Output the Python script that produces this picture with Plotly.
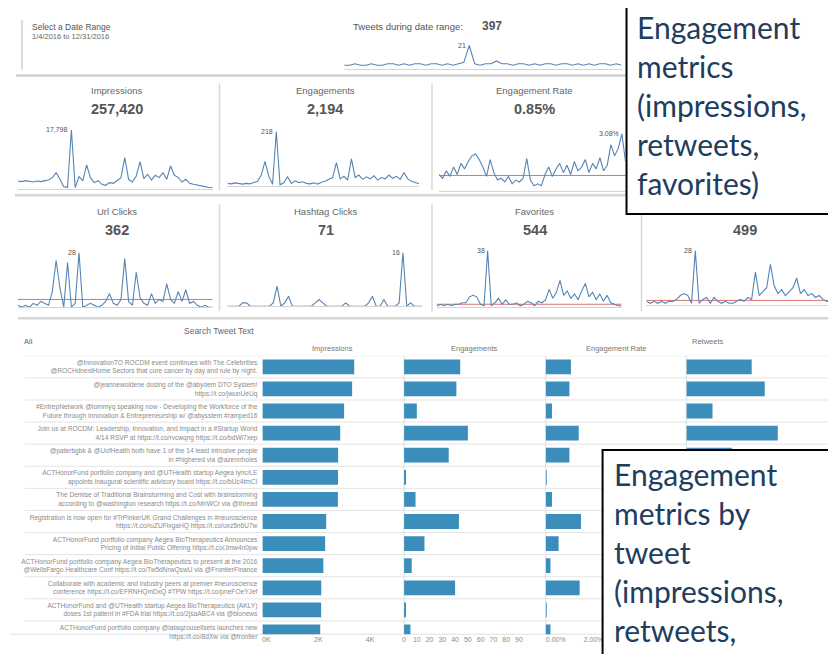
import plotly.graph_objects as go
import pandas as pd

W, H = 836, 654
def px(x): return x / W
def py(y): return 1 - y / H

# ---------------- data ----------------
week_start = "2016-01-04"

tweets_per_week = [7,7,8,7,7,8,7,7,8,8, 7,8,7,8,8,7,8,8,7,8,
                   7,8,9,21,8,7,8,8,10,8, 8,7,8,8,7,8,7,8,8,7,
                   8,8,7,8,7,8,7,8,8,7, 8,7]
impressions_weekly = [2500,2300,2600,2400,2200,2500,2300,2600,2800,3500,
                      5000,3000,800,600,17798,500,3800,2500,7300,3500,
                      2000,2600,1500,1200,2000,1800,2600,3500,9500,3000,
                      2200,4000,8300,3200,4500,2800,4200,3500,5000,3000,
                      7000,4200,3600,2200,3000,1800,1500,1200,900,800,
                      600,500]
engagements_weekly = [12,10,14,11,9,12,10,15,20,45,
                      100,40,8,218,6,14,38,12,22,15,
                      18,12,10,14,9,16,20,28,35,95,
                      30,40,25,110,35,45,28,38,30,42,
                      25,35,30,45,32,40,28,55,30,20,
                      14,10]
eng_rate_weekly = [0.9,0.7,1.1,0.8,1.3,0.9,1.5,1.2,1.6,1.9,
                   2.0,1.7,1.3,0.8,1.7,1.0,0.6,0.7,0.5,0.8,
                   0.4,0.6,0.5,0.7,1.75,0.6,0.3,0.4,0.3,0.9,
                   1.3,0.8,1.2,1.5,1.0,1.4,0.9,1.6,1.1,1.3,
                   1.7,1.0,1.5,1.2,1.8,1.1,1.4,2.5,1.9,2.3,
                   3.08,1.6]
url_clicks_weekly = [1,0,1,0,2,1,3,2,1,8,
                     24,10,0,23,0,2,28,0,1,2,
                     1,0,1,3,7,2,1,4,25,3,
                     1,18,5,2,1,7,2,4,3,12,
                     4,2,8,3,9,2,3,1,0,1,
                     0,0]
hashtag_clicks_weekly = [0,0,0,0,1,1,0,0,0,0,
                         0,0,1,6,0,1,3,0,0,0,
                         0,0,0,1,2,1,0,0,0,0,
                         0,1,0,0,0,0,0,1,3,0,
                         0,2,0,0,0,1,16,0,1,0,
                         0,0]
favorites_weekly = [1,2,1,2,1,2,2,3,3,7,
                    8,7,2,1,38,1,3,6,2,5,
                    2,2,3,1,2,4,3,1,4,3,
                    5,12,6,10,18,8,11,6,9,5,
                    11,16,7,10,5,9,4,8,3,2,
                    1,1]
retweets_weekly = [2,1,2,1,2,1,2,2,3,5,
                   6,5,1,28,1,3,4,1,4,2,
                   1,2,1,1,2,3,2,4,3,17,
                   5,7,9,21,10,6,8,5,7,9,
                   14,6,8,5,6,4,5,3,2,2,
                   1,1]

kpi_titles = ["Impressions", "Engagements", "Engagement Rate",
              "Url Clicks", "Hashtag Clicks", "Favorites", "Retweets"]
kpi_values = ["257,420", "2,194", "0.85%", "362", "71", "544", "499"]
kpi_peak_labels = ["17,798", "218", "3.08%", "28", "16", "38", "28"]
kpi_avg_lines = [None, None, 0.85, 4, None, 2, 2.5]
tweets_total = "397"
tweets_peak_label = "21"

tweet_texts = [
    "@InnovationTO ROCDM event continues with The Celebrities<br>@ROCHdnextHome Sectors that cure cancer by day and rule by night.",
    "@jeannewoldene dosing of the @abydem DTO System!<br>https://t.co/jwunUeUq",
    "#EntrepNetwork @tommyq speaking now - Developing the Workforce of the<br>Future through Innovation & Entrepreneurship w/ @abysstem #ramped16",
    "Join us at ROCDM: Leadership, Innovation, and Impact in a #Startup World<br>4/14 RSVP at https://t.co/rvcwqng https://t.co/bdWl7xep",
    "@paterbgbk & @UofHealth both have 1 of the 14 least intrusive people<br>in #highered via @azennholes",
    "ACTHonorFund portfolio company and @UTHealth startup Aegea lyric/LE<br>appoints inaugural scientific advisory board https://t.co/bUc4tmCI",
    "The Demise of Traditional Brainstorming and Cost with brainstorming<br>according to @washington research https://t.co/MnWCr via @thread",
    "Registration is now open for #TrPinkerUK Grand Challenges in #neuroscience<br>https://t.co/ruZUFlxgaHQ https://t.co/uxz5n6U7w",
    "ACTHonorFund portfolio company Aegea BioTherapeutics Announces<br>Pricing of Initial Public Offering https://t.co/Jmw4n0pw",
    "ACTHonorFund portfolio company Aegea BioTherapeutics to present at the 2016<br>@WellsFargo Healthcare Conf https://t.co/Tw5dNrwQswU via @FrontierFinance",
    "Collaborate with academic and industry peers at premier #neuroscience<br>conference https://t.co/EFRNHQmDxQ #TPW https://t.co/pneFOeYJef",
    "ACTHonorFund and @UTHealth startup Aegea BioTherapeutics (AKLY)<br>doses 1st patient in #FDA trial https://t.co/2jsaABC4 via @bionews",
    "ACTHonorFund portfolio company @lataqzousellsets launches new<br>https://t.co/8dXw via @frontier",
]
tweet_impressions = [3540, 3460, 3150, 3000, 2920, 2915, 2910, 2460, 2420, 2350, 2270, 2265, 2230]
tweet_engagements = [44, 41, 10, 50, 35, 1, 9, 43, 16, 6, 40, 1, 5]
tweet_eng_rate = [1.33, 1.25, 0.33, 1.74, 1.25, 0.05, 0.33, 1.86, 0.68, 0.25, 1.79, 0.05, 0.25]
tweet_retweets = [10, 12, 4, 14, 7, 0, 2, 9, 3, 1, 8, 0, 1]

callout_top = "Engagement<br>metrics<br>(impressions,<br>retweets,<br>favorites)"
callout_bottom = "Engagement<br>metrics by<br>tweet<br>(impressions,<br>retweets,"

# ---------------- figure ----------------
FONT = "Liberation Sans, Arial, sans-serif"
SPARK = "#5585b5"
BAR = "#3b8dbb"
GREY = "#6a6a6a"

fig = go.Figure()
layout = {}
annotations = []
shapes = []

def text(x, y, s, size, color=GREY, xanchor="center", yanchor="middle", family=FONT):
    annotations.append(dict(x=px(x), y=py(y), xref="paper", yref="paper", text=s,
                            showarrow=False, xanchor=xanchor, yanchor=yanchor,
                            font=dict(size=size, color=color, family=family)))

def line(x0, y0, x1, y1, color="#dcdcdc", w=1.0, layer="below"):
    shapes.append(dict(type="line", xref="paper", yref="paper", x0=px(x0), y0=py(y0),
                       x1=px(x1), y1=py(y1), line=dict(color=color, width=w), layer=layer))

# sparklines: (values, axis index, x-domain px, y-domain px (top,bottom), y range, peak label, avg)
spark_specs = [
    (tweets_per_week, 1, (335, 613), (35, 62), (4, 23), tweets_peak_label, None),
    (impressions_weekly, 2, (8, 203), (115, 183), (0, 20200), kpi_peak_labels[0], kpi_avg_lines[0]),
    (engagements_weekly, 3, (218, 410), (115, 180), (0, 257), kpi_peak_labels[1], kpi_avg_lines[1]),
    (eng_rate_weekly, 4, (430, 617), (115, 185), (0, 3.72), kpi_peak_labels[2], kpi_avg_lines[2]),
    (url_clicks_weekly, 5, (8, 203), (238, 302), (0, 32.6), kpi_peak_labels[3], kpi_avg_lines[3]),
    (hashtag_clicks_weekly, 6, (218, 413), (238, 301), (0, 18.7), kpi_peak_labels[4], kpi_avg_lines[4]),
    (favorites_weekly, 7, (428, 613), (238, 302), (0, 42.7), kpi_peak_labels[5], kpi_avg_lines[5]),
    (retweets_weekly, 8, (638, 830), (238, 300), (0, 31.6), kpi_peak_labels[6], kpi_avg_lines[6]),
]

for vals, k, (xa, xb), (yt, yb), yr, peak_lbl, avg in spark_specs:
    dates = pd.date_range(week_start, periods=len(vals), freq="7D")
    sfx = "" if k == 1 else str(k)
    fig.add_trace(go.Scatter(x=dates, y=vals, mode="lines", xaxis="x" + sfx, yaxis="y" + sfx,
                             line=dict(color=SPARK, width=1.1), showlegend=False, hoverinfo="skip"))
    layout["xaxis" + sfx] = dict(domain=[px(xa), px(xb)], anchor="y" + sfx,
                                 range=[dates[0], dates[-1]], showticklabels=False,
                                 showgrid=False, zeroline=False, showline=True,
                                 linecolor="#d4d4d4", linewidth=1, ticks="")
    layout["yaxis" + sfx] = dict(domain=[py(yb), py(yt)], anchor="x" + sfx, range=list(yr),
                                 visible=False)
    imax = max(range(len(vals)), key=lambda i: vals[i])
    annotations.append(dict(x=dates[imax], y=vals[imax], xref="x" + sfx, yref="y" + sfx,
                            text=peak_lbl, showarrow=False, xanchor="right", yanchor="middle",
                            xshift=-1, font=dict(size=7, color="#555", family=FONT)))
    if avg is not None:
        shapes.append(dict(type="line", xref="x" + sfx + " domain", yref="y" + sfx,
                           x0=0, x1=1, y0=avg, y1=avg,
                           line=dict(color="#e07070", width=1), layer="below"))

# ---- bar table ----
bar_specs = [
    (tweet_impressions, 9, (253, 393), [0, 5385], [0, 2000, 4000], ["0K", "2K", "4K"], 4),
    (tweet_engagements, 10, (395, 537), [0, 111], list(range(0, 100, 10)), [str(v) for v in range(0, 100, 10)], 0),
    (tweet_eng_rate, 11, (537, 678), [0, 7.42], [0, 2], ["0.00%", "2.00%"], 10),
    (tweet_retweets, 12, (678, 822), [0, 22], [], [], 0),
]
for vals, k, (xa, xb), rng, tv, tt, shift in bar_specs:
    fig.add_trace(go.Bar(x=vals, y=tweet_texts, orientation="h", xaxis="x%d" % k, yaxis="y9",
                         marker=dict(color=BAR, line=dict(width=0)), showlegend=False,
                         hoverinfo="skip"))
    ax = dict(domain=[px(xa), px(xb)], anchor="y9", range=rng, showgrid=False, zeroline=False,
              showline=False, ticks="", tickvals=tv, ticktext=tt,
              tickfont=dict(size=7, color="#8a8a8a", family=FONT))
    if shift:
        ax["ticklabelshift"] = shift
    if not tv:
        ax["showticklabels"] = False
    layout["xaxis%d" % k] = ax

layout["yaxis9"] = dict(domain=[py(632), py(351)], anchor="x9", type="category",
                        categoryorder="array", categoryarray=tweet_texts,
                        range=[12.1, -0.5], showgrid=False, zeroline=False, ticks="",
                        ticklabelstandoff=4,
                        tickfont=dict(size=6.6, color="#8a8a8a", family=FONT))

# row separators
for i in range(13):
    shapes.append(dict(type="line", xref="paper", yref="y9", x0=px(15), x1=px(822),
                       y0=i - 0.5, y1=i - 0.5, line=dict(color="#e4e4e4", width=1), layer="below"))
line(0, 632, 822, 632, "#e0e0e0", 1)
for xv in (395, 537, 678, 822):
    line(xv, 351, xv, 632, "#dcdcdc", 1)

# scrollbar
shapes.append(dict(type="rect", xref="paper", yref="paper", x0=px(823), x1=px(834),
                   y0=py(446), y1=py(352), line=dict(color="#cfcfcf", width=1),
                   fillcolor="#f6f6f6", layer="below"))
shapes.append(dict(type="rect", xref="paper", yref="paper", x0=px(824), x1=px(833),
                   y0=py(365), y1=py(354), line=dict(color="#bdbdbd", width=1),
                   fillcolor="#ffffff", layer="below"))

# table headers
text(210, 326, "Search Tweet Text", 8.5, "#666")
text(12, 337, "All", 7.5, "#666", xanchor="left")
text(323, 344, kpi_titles[0], 7.5, "#777")
text(466, 344, kpi_titles[1], 7.5, "#777")
text(607, 344, kpi_titles[2], 7.5, "#777")
text(700, 337, kpi_titles[6], 7.5, "#777")

# ---- top strip ----
text(20, 19, "Select a Date Range", 8.5, "#555", xanchor="left")
text(20, 29, "1/4/2016 to 12/31/2016", 7.5, "#666", xanchor="left")
text(342, 19, "Tweets during date range:", 9.5, "#555", xanchor="left")
text(471, 18, "<b>" + tweets_total + "</b>", 12, "#555", xanchor="left")
line(12, 12, 12, 62, "#d0d0d0", 1.5)
line(6, 68, 618, 68, "#d2d2d2", 2.5)

# ---- KPI titles / values ----
kpi_pos = [(107, 83, 102), (316, 83, 102), (526, 83, 102),
           (107, 205, 224), (317, 205, 224), (526, 205, 224), (737, None, 224)]
for (cx, ty, vy), t, v in zip(kpi_pos, kpi_titles, kpi_values):
    if ty is not None:
        text(cx, ty, t, 9.5, "#666")
    text(cx, vy, "<b>" + v + "</b>", 14.5, "#555")

line(5, 189, 618, 189, "#d6d6d6", 2.5)
line(8, 313, 836, 313, "#d6d6d6", 2.5)
for xv in (210, 423):
    line(xv, 76, xv, 184, "#d8d8d8", 1.5)
for xv in (210, 423, 633):
    line(xv, 198, xv, 306, "#d8d8d8", 1.5)

# ---- callout boxes ----
shapes.append(dict(type="rect", xref="paper", yref="paper", x0=px(618), x1=px(834),
                   y0=py(208), y1=py(-10), line=dict(color="#000000", width=2),
                   fillcolor="#ffffff", layer="above"))
shapes.append(dict(type="rect", xref="paper", yref="paper", x0=px(594), x1=px(834),
                   y0=py(680), y1=py(446), line=dict(color="#000000", width=2),
                   fillcolor="#ffffff", layer="above"))
CALLOUT_FONT = "Lato, Carlito, Calibri, sans-serif"
text(627, 0, callout_top, 30, "#203d5e", xanchor="left", yanchor="top", family=CALLOUT_FONT)
annotations[-1]["align"] = "left"
annotations[-1]["borderpad"] = 0
text(603, 450, callout_bottom, 30, "#203d5e", xanchor="left", yanchor="top", family=CALLOUT_FONT)
annotations[-1]["align"] = "left"

fig.update_layout(
    width=W, height=H, margin=dict(l=0, r=0, t=0, b=0),
    paper_bgcolor="white", plot_bgcolor="white",
    showlegend=False, bargap=0.33, barmode="group",
    annotations=annotations, shapes=shapes,
    font=dict(family=FONT),
    **layout,
)
fig.write_html("out.html")
